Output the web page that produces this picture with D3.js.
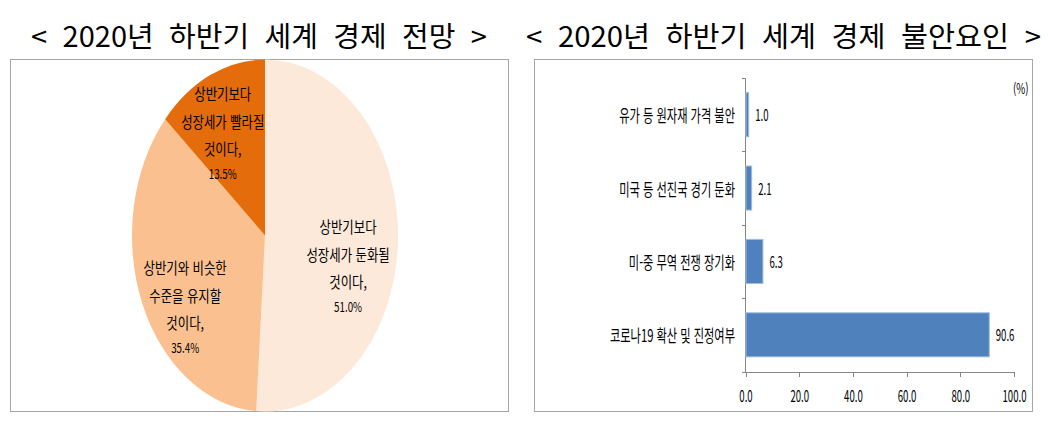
<!DOCTYPE html>
<html lang="ko">
<head>
<meta charset="utf-8">
<script src="https://cdn.jsdelivr.net/npm/d3@7/dist/d3.min.js"></script>
<style>
  body { margin: 0; background: #fff; font-family: "Noto Sans CJK KR", sans-serif; }
  text { fill: #000; }
  .axis path, .axis line { stroke: #868686; shape-rendering: crispEdges; }
  .frame { fill: #fff; stroke: #a6a6a6; }
</style>
</head>
<body>
<svg id="chart" width="1048" height="425"></svg>
<script>
  // data
  var titles = ['< 2020년 하반기 세계 경제 전망 >', '< 2020년 하반기 세계 경제 불안요인 >'];

  var pieNames = ['상반기보다\n성장세가 둔화될\n것이다', '상반기와 비슷한\n수준을 유지할\n것이다', '상반기보다\n성장세가 빨라질\n것이다'];
  var pieValues = [51.0, 35.4, 13.5];
  var pieColors = ['#fde9d9', '#fac090', '#e46c0a'];

  var barNames = ['유가 등 원자재 가격 불안', '미국 등 선진국 경기 둔화', '미-중 무역 전쟁 장기화', '코로나19 확산 및 진정여부'];
  var barValues = [1.0, 2.1, 6.3, 90.6];
  var xTicks = [0, 20, 40, 60, 80, 100];

  var svg = d3.select('#chart');

  // squeeze text horizontally around its x anchor (source font is a narrow one)
  function squeeze(sel, k) {
    sel.each(function () {
      var ax = +d3.select(this).attr('x') || 0;
      d3.select(this).attr('transform', 'translate(' + (ax * (1 - k)) + ',0) scale(' + k + ',1)');
    });
  }

  // titles, stretched to the width they have in the source
  var titleX = [259, 783.5], titleW = [456, 515];
  svg.selectAll('.title')
    .data(titles)
    .enter().append('text')
    .attr('class', 'title')
    .attr('x', function (d, i) { return titleX[i]; })
    .attr('y', 47)
    .attr('text-anchor', 'middle')
    .style('font-size', '28px')
    .style('word-spacing', '7px')
    .text(function (d) { return d; })
    .each(function (d, i) {
      var w = this.getBBox().width;
      d3.select(this).call(squeeze, titleW[i] / w);
    });

  // frames
  svg.append('rect').attr('class', 'frame')
    .attr('x', 10.5).attr('y', 59.5).attr('width', 498).attr('height', 352);
  svg.append('rect').attr('class', 'frame')
    .attr('x', 534.5).attr('y', 59.5).attr('width', 498).attr('height', 352);

  // ---- pie (drawn as a circle, stretched into an ellipse)
  var cx = 265, cy = 235.5, ry = 176, rx = 133;
  var sx = rx / ry;

  var pie = d3.pie().sort(null).value(function (d) { return d; });
  var arcs = pie(pieValues);
  var arc = d3.arc().innerRadius(0).outerRadius(ry);
  var labelArc = d3.arc().innerRadius(ry * 0.625).outerRadius(ry * 0.625);

  svg.append('g')
    .attr('transform', 'translate(' + cx + ',' + cy + ') scale(' + sx + ',1)')
    .selectAll('path')
    .data(arcs)
    .enter().append('path')
    .attr('d', arc)
    .attr('fill', function (d, i) { return pieColors[i]; });

  // excel "best fit" label nudges
  var labelNudge = [[0, 27], [-3, 30], [-8, -2]];
  var lineDy = [-40, -12, 15, 40];

  arcs.forEach(function (a, i) {
    var c = labelArc.centroid(a);
    var lx = cx + c[0] * sx + labelNudge[i][0];
    var ly = cy + c[1] + labelNudge[i][1];
    var lines = pieNames[i].split('\n');
    lines[lines.length - 1] += ',';
    lines.push(pieValues[i].toFixed(1) + '%');
    var g = svg.append('g');
    lines.forEach(function (t, j) {
      var isPct = j === lines.length - 1;
      g.append('text')
        .attr('x', lx)
        .attr('y', ly + lineDy[j])
        .attr('text-anchor', 'middle')
        .attr('dominant-baseline', 'central')
        .style('font-size', isPct ? '13px' : '15.5px')
        .text(t)
        .call(squeeze, isPct ? 0.75 : 0.8);
    });
  });

  // ---- bars
  var x = d3.scaleLinear().domain([0, 100]).range([745.5, 1014]);
  var y = d3.scaleBand().domain(barNames).range([78, 371.5])
    .paddingInner(0.4).paddingOuter(0.2);

  var xAxis = d3.axisBottom(x)
    .tickValues(xTicks)
    .tickSize(5)
    .tickSizeOuter(0)
    .tickPadding(14)
    .tickFormat(d3.format('.1f'));

  var gx = svg.append('g')
    .attr('class', 'x axis')
    .attr('transform', 'translate(0,371.5)')
    .call(xAxis);
  gx.selectAll('text')
    .style('font-size', '16px')
    .style('font-family', '"Noto Sans CJK KR", sans-serif')
    .attr('fill', '#000')
    .call(squeeze, 0.6);

  // y axis: line with ticks on band boundaries
  var gy = svg.append('g').attr('class', 'y axis');
  gy.append('line')
    .attr('x1', x(0)).attr('x2', x(0))
    .attr('y1', y.range()[0]).attr('y2', y.range()[1]);
  gy.selectAll('.tk')
    .data(d3.range(barNames.length + 1))
    .enter().append('line')
    .attr('class', 'tk')
    .attr('x1', x(0) - 4).attr('x2', x(0))
    .attr('y1', function (i) { return Math.round(y.range()[0] + i * y.step()) + 0.5; })
    .attr('y2', function (i) { return Math.round(y.range()[0] + i * y.step()) + 0.5; });

  svg.selectAll('.bar')
    .data(barValues)
    .enter().append('rect')
    .attr('class', 'bar')
    .attr('x', x(0) + 0.5)
    .attr('y', function (d, i) { return y(barNames[i]); })
    .attr('width', function (d) { return x(d) - x(0); })
    .attr('height', y.bandwidth())
    .attr('fill', '#4f81bd')
    .attr('stroke', '#9dbbdf')
    .attr('stroke-width', 1);

  svg.selectAll('.cat')
    .data(barNames)
    .enter().append('text')
    .attr('class', 'cat')
    .attr('x', 735)
    .attr('y', function (d) { return y(d) + y.bandwidth() / 2; })
    .attr('text-anchor', 'end')
    .attr('dominant-baseline', 'central')
    .style('font-size', '17px')
    .text(function (d) { return d; })
    .call(squeeze, 0.66);

  svg.selectAll('.val')
    .data(barValues)
    .enter().append('text')
    .attr('class', 'val')
    .attr('x', function (d) { return x(d) + 7; })
    .attr('y', function (d, i) { return y(barNames[i]) + y.bandwidth() / 2; })
    .attr('dominant-baseline', 'central')
    .style('font-size', '16px')
    .text(function (d) { return d.toFixed(1); })
    .call(squeeze, 0.6);

  svg.append('text')
    .attr('x', 1013)
    .attr('y', 88)
    .attr('dominant-baseline', 'central')
    .style('font-size', '14px')
    .text('(%)')
    .call(squeeze, 0.7);
</script>
</body>
</html>
